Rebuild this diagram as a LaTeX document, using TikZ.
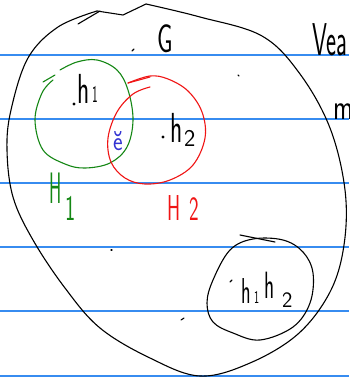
\documentclass[tikz,border=0pt]{standalone}
\definecolor{rulecol}{RGB}{55,140,240}
\definecolor{hgreen}{RGB}{20,135,20}
\definecolor{hred}{RGB}{240,20,20}
\definecolor{eblue}{RGB}{50,50,210}
\begin{document}
\begin{tikzpicture}[x=1pt,y=-1pt,
  ink/.style={line width=1.1pt, line cap=round, line join=round},
  rulers/.style={rulecol, line width=1.2pt},
  txt/.style={inner sep=0pt, outer sep=0pt, anchor=base west, font=\sffamily}]
\useasboundingbox (0,0) rectangle (349,380);
\clip (0,0) rectangle (349,380);
\fill[white] (0,0) rectangle (349,380);
% ruled lines
\foreach \yy in {55,119,183,247,311,376}
  \draw[rulers] (0,\yy) -- (349,\yy);
% big set G
\draw[ink] (78,24) -- (100,11);
\draw[ink] (97,11) -- (123,15) -- (146,4);
\draw[ink] plot[smooth, tension=0.6] coordinates {(146,4) (200,17) (262,36) (300,74) (330,128) (345,190) (344,245) (330,292) (298,334) (250,363) (200,376) (150,358) (100,328) (65,288) (33,240) (13,197) (7,150) (11,110) (28,58) (58,27) (97,11)};
% H1 green
\draw[ink, hgreen] (43,82) -- (55,75);
\draw[ink, hgreen] plot[smooth, tension=0.6] coordinates {(53,80) (42,93) (35,120) (43,150) (65,164) (85,168) (110,163) (127,147) (133,120) (128,90) (117,70) (97,60) (77,62) (60,70)};
% H2 red
\draw[ink, hred] (128,83) -- (150,77);
\draw[ink, hred] plot[smooth, tension=0.6] coordinates {(150,87) (133,94) (117,112) (108,138) (111,162) (125,178) (145,184) (170,180) (193,165) (205,138) (202,112) (188,91) (168,79) (150,76) (128,83)};
% small set h1h2
\draw[ink] (240,235) -- (275,242);
\draw[ink] plot[smooth cycle, tension=0.6] coordinates {(230,250) (253,239) (283,240) (303,252) (313,273) (310,303) (293,327) (260,340) (233,333) (213,322) (207,303) (213,280)};
% dots
\draw[ink] (132,51) -- (134,49);
\draw[ink] (238,75) -- (239,76);
\draw[ink] (111,250) -- (112,250);
\draw[ink] (181,320) -- (184,318);
\fill (74,104) circle (1.6);
\fill (163,137) circle (1.6);
\draw[ink] (230,282) -- (232,280);
% texts
\node[txt, font=\sffamily\fontsize{40}{40}\selectfont, xscale=0.62] (G) at (157,52) {G};
\node[txt, font=\sffamily\fontsize{46}{46}\selectfont, xscale=0.52] (vea) at (312,55) {Vea};
\node[txt, font=\sffamily\fontsize{36}{36}\selectfont, xscale=0.75] (m) at (333,119) {m};
\node[txt, font=\sffamily\fontsize{42}{42}\selectfont, xscale=0.6] (h1) at (77,103) {h};
\node[txt, font=\sffamily\fontsize{24}{24}\selectfont, xscale=0.5] (h1s) at (92,102) {1};
\node[txt, font=\sffamily\fontsize{42}{42}\selectfont, xscale=0.6] (h2) at (170,142) {h};
\node[txt, font=\sffamily\fontsize{24}{24}\selectfont] (h2s) at (184,146) {2};
\node[txt, eblue, font=\sffamily\fontsize{27}{27}\selectfont, xscale=0.85] (e) at (113,150) {\u{e}};
\node[txt, hgreen, font=\sffamily\fontsize{44}{44}\selectfont, xscale=0.42] (H1) at (49,203) {H};
\node[txt, hgreen, font=\sffamily\fontsize{36}{36}\selectfont, xscale=0.6] (H1s) at (65,220) {1};
\node[txt, hred, font=\sffamily\fontsize{36}{36}\selectfont, xscale=0.55] (H2) at (167,220) {H};
\node[txt, hred, font=\sffamily\fontsize{34}{34}\selectfont, xscale=0.6] (H2s) at (189,220) {2};
\node[txt, font=\sffamily\fontsize{36}{36}\selectfont, xscale=0.55] (hh1) at (241,303) {h};
\node[txt, font=\sffamily\fontsize{18}{18}\selectfont, xscale=0.6] (hh1s) at (254,303) {1};
\node[txt, font=\sffamily\fontsize{38}{38}\selectfont, xscale=0.55] (hh2) at (264,298) {h};
\node[txt, font=\sffamily\fontsize{22}{22}\selectfont] (hh2s) at (282,307) {2};
\end{tikzpicture}
\end{document}
